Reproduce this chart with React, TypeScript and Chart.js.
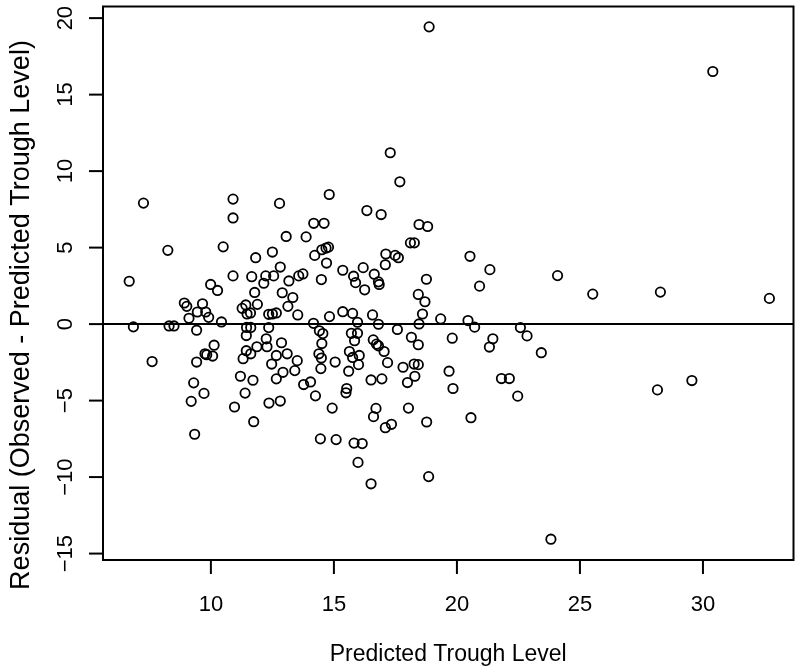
import React, { useEffect, useRef } from "react";
import { Chart, registerables } from "chart.js";

Chart.register(...registerables);

// Predicted trough level (x) for each observation
const predictedLevel: number[] = [
  7.26, 10.9, 10.9, 12.79, 8.25, 10.5, 13.06, 6.68, 11.82, 12.5,
  12.82, 10.9, 11.66, 12.23, 12.55, 12.15, 13.17, 13.57, 9.99, 10.27,
  11.78, 12.9, 13.33, 8.92, 9.02, 9.66, 9.45, 9.79, 9.91, 9.11,
  10.43, 11.27, 11.42, 11.89, 11.47, 11.61, 12.35, 12.5, 12.66, 13.13,
  13.53, 6.85, 8.3, 8.5, 9.42, 11.45, 11.62, 12.35, 11.44, 12.25,
  12.28, 11.87, 12.87, 10.13, 9.76, 9.83, 10.07, 7.61, 9.42, 11.44,
  11.62, 11.31, 12.66, 13.1, 12.47, 13.51, 12.93, 13.41, 12.66, 11.2,
  11.71, 13.77, 9.3, 9.72, 9.2, 11.39, 10.96, 12.36, 12.82, 11.74,
  9.34, 17.29, 17.68, 14.81, 16.34, 16.92, 14.18, 14.6, 18.46, 18.81,
  13.87, 14.22, 14.51, 14.68, 14.78, 14.7, 17.11, 17.09, 17.49, 17.62,
  18.11, 18.27, 20.53, 21.34, 20.92, 13.74, 14.49, 15.36, 15.8, 15.88,
  16.19, 16.25, 16.64, 16.81, 16.84, 18.76, 18.43, 18.7, 14.82, 15.36,
  15.76, 15.96, 16.57, 16.81, 18.6, 18.46, 19.34, 20.45, 20.72, 14.17,
  14.41, 14.55, 17.58, 15.71, 15.96, 15.84, 14.51, 14.39, 14.49, 14.47,
  15.05, 15.63, 15.76, 16.03, 16.0, 15.6, 16.6, 16.73, 16.81, 17.04,
  18.15, 18.43, 17.18, 17.81, 18.26, 18.43, 18.29, 17.99, 16.51, 16.95,
  14.05, 14.25, 15.52, 15.49, 14.93, 16.71, 16.61, 18.03, 17.09, 17.34,
  18.77, 20.57, 14.45, 15.09, 15.82, 16.15, 15.98, 18.85, 16.51, 19.68,
  19.84, 19.81, 24.09, 25.52, 28.27, 32.7, 22.58, 22.85, 21.46, 21.32,
  23.43, 21.81, 22.13, 22.47, 23.82, 28.15, 29.55, 18.87, 30.4,
];

// Residual (observed - predicted) for each observation
const residualValue: number[] = [
  7.91, 8.17, 6.94, 7.89, 4.82, 5.05, 5.73, 2.8, 4.34, 4.71,
  3.73, 3.15, 3.1, 3.15, 3.15, 2.67, 2.82, 3.15, 2.59, 2.2,
  2.07, 2.05, 1.74, 1.38, 1.16, 1.33, 0.79, 0.79, 0.44, 0.38,
  0.14, 1.03, 1.25, 1.29, 0.66, 0.73, 0.64, 0.66, 0.73, 1.16,
  0.6, -0.18, -0.12, -0.12, -0.4, -0.22, -0.22, -0.23, -0.75, -0.96,
  -1.48, -1.48, -1.22, -1.38, -1.94, -2.0, -2.09, -2.45, -2.48, -1.74,
  -1.94, -2.26, -2.05, -1.94, -2.61, -2.39, -3.15, -3.04, -3.58, -3.41,
  -3.67, -3.95, -3.84, -4.53, -5.05, -4.51, -5.42, -5.16, -5.03, -6.38,
  -7.2, 11.2, 9.3, 8.47, 7.42, 7.16, 6.59, 6.59, 6.51, 6.38,
  5.7, 4.49, 4.86, 4.97, 5.03, 3.99, 4.58, 3.88, 4.49, 4.34,
  5.31, 5.31, 4.43, 3.56, 2.48, 3.28, 2.91, 3.52, 3.13, 2.71,
  3.69, 2.24, 3.26, 2.76, 2.59, 2.93, 1.94, 1.46, 0.49, 0.81,
  0.7, 0.12, 0.6, -0.01, 0.66, 0.01, 0.34, 0.23, -0.2, 0.05,
  -0.44, -0.62, -0.35, -0.6, -0.6, -1.09, -1.27, -1.94, -2.22, -2.91,
  -2.48, -1.79, -2.18, -2.05, -2.65, -3.08, -1.03, -1.31, -1.42, -1.79,
  -0.86, -1.35, -2.52, -2.82, -2.61, -2.65, -3.41, -3.82, -3.65, -3.58,
  -3.78, -4.69, -4.21, -4.49, -5.49, -5.51, -6.05, -5.49, -6.77, -6.55,
  -6.4, -6.12, -7.5, -7.55, -7.78, -7.81, -9.04, -9.97, -10.44, -3.08,
  -4.21, -0.92, 3.17, 1.96, 2.09, 1.68, -0.23, -0.77, -0.96, -1.5,
  -1.87, -3.56, -3.56, -4.71, -14.06, -4.3, -3.69, 19.43, 16.51,
];

const xTickValues: number[] = [10, 15, 20, 25, 30];
const yTickValues: number[] = [-15, -10, -5, 0, 5, 10, 15, 20];
const xAxisTitle = "Predicted Trough Level";
const yAxisTitle = "Residual (Observed - Predicted Trough Level)";
const referenceLineValue = 0;

const FONT_FAMILY = '"Liberation Sans", Arial, Helvetica, sans-serif';
const TICK_FONT = 22;
const X_TITLE_FONT = 23;
const Y_TITLE_FONT = 27;

function fmt(v: number): string {
  return v < 0 ? "\u2212" + String(Math.abs(v)) : String(v);
}

const rAxesPlugin = {
  id: "rAxes",
  afterDraw(chart: any) {
    const { ctx, chartArea: a, scales } = chart;
    const xs = scales.x;
    const ys = scales.y;
    ctx.save();
    ctx.strokeStyle = "#000";
    ctx.fillStyle = "#000";
    ctx.lineWidth = 2;
    ctx.lineCap = "butt";

    // reference line at 0
    const y0 = ys.getPixelForValue(referenceLineValue);
    ctx.beginPath();
    ctx.moveTo(a.left, y0);
    ctx.lineTo(a.right, y0);
    ctx.stroke();

    // box
    ctx.strokeRect(a.left, a.top, a.right - a.left, a.bottom - a.top);

    ctx.font = `${TICK_FONT}px ${FONT_FAMILY}`;
    ctx.textAlign = "center";
    ctx.textBaseline = "alphabetic";
    const tickLen = 14;

    xTickValues.forEach((v) => {
      const px = xs.getPixelForValue(v);
      ctx.beginPath();
      ctx.moveTo(px, a.bottom);
      ctx.lineTo(px, a.bottom + tickLen);
      ctx.stroke();
      ctx.fillText(fmt(v), px, 603 + TICK_FONT * 0.358);
    });

    yTickValues.forEach((v) => {
      const py = ys.getPixelForValue(v);
      ctx.beginPath();
      ctx.moveTo(a.left - tickLen, py);
      ctx.lineTo(a.left, py);
      ctx.stroke();
      ctx.save();
      ctx.translate(64 + TICK_FONT * 0.358, py);
      ctx.rotate(-Math.PI / 2);
      ctx.fillText(fmt(v), 0, 0);
      ctx.restore();
    });

    // axis titles
    ctx.font = `${X_TITLE_FONT}px ${FONT_FAMILY}`;
    ctx.fillText(xAxisTitle, (a.left + a.right) / 2, 653 + X_TITLE_FONT * 0.358);
    ctx.font = `${Y_TITLE_FONT}px ${FONT_FAMILY}`;
    ctx.save();
    ctx.translate(19 + Y_TITLE_FONT * 0.358, 315);
    ctx.rotate(-Math.PI / 2);
    ctx.fillText(yAxisTitle, 0, 0);
    ctx.restore();

    ctx.restore();
  },
};

export default function App() {
  const canvasRef = useRef<HTMLCanvasElement | null>(null);

  useEffect(() => {
    const canvas = canvasRef.current;
    if (!canvas) return;
    const points = predictedLevel.map((x, i) => ({ x, y: residualValue[i] }));
    const chart = new Chart(canvas, {
      type: "scatter",
      data: {
        datasets: [
          {
            data: points,
            pointStyle: "circle",
            pointRadius: 4.7,
            pointHoverRadius: 4.7,
            borderWidth: 1.8,
            borderColor: "#000",
            backgroundColor: "rgba(0,0,0,0)",
          },
        ],
      },
      options: {
        responsive: false,
        animation: false,
        events: [],
        layout: { padding: { left: 103, top: 3, right: 4, bottom: 110 } },
        scales: {
          x: { type: "linear", min: 5.615, max: 33.68, display: false },
          y: { type: "linear", min: -15.42, max: 20.76, display: false },
        },
        plugins: {
          legend: { display: false },
          tooltip: { enabled: false },
        },
      },
      plugins: [rAxesPlugin],
    });
    return () => chart.destroy();
  }, []);

  return (
    <div style={{ position: "absolute", left: 0, top: 0, width: 800, height: 670, background: "#fff" }}>
      <canvas ref={canvasRef} width={800} height={670} style={{ display: "block" }} />
    </div>
  );
}
